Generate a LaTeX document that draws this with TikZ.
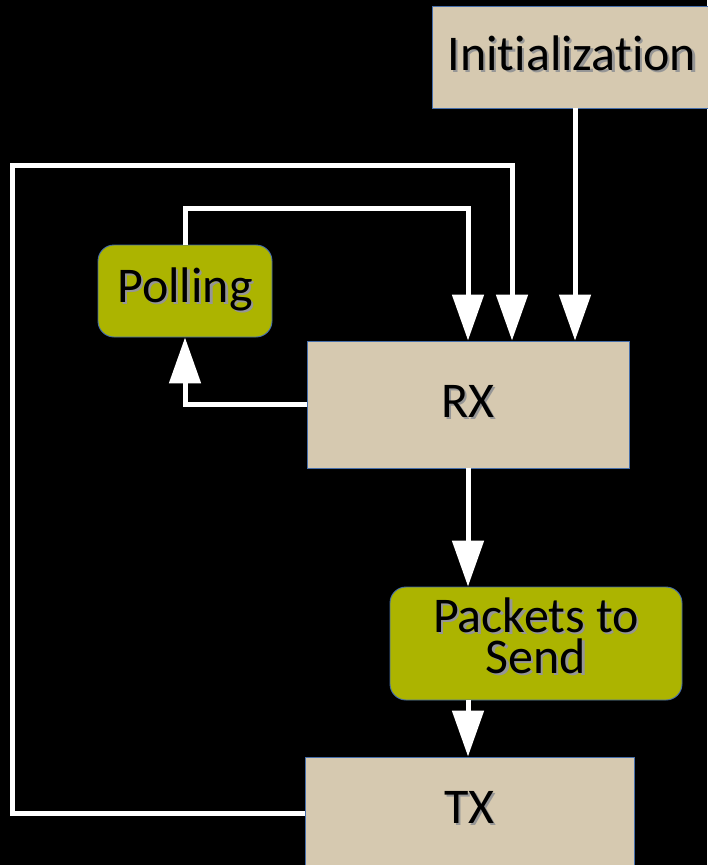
\documentclass[tikz,border=0pt]{standalone}
\usepackage{fontspec}
\setmainfont{Carlito}[Ligatures={CommonOff}]
\usetikzlibrary{arrows.meta}
\definecolor{tan}{RGB}{214,201,176}
\definecolor{olive}{RGB}{172,180,0}
\definecolor{edgeblue}{RGB}{70,110,170}
\definecolor{shadowgray}{RGB}{150,150,150}
% text with a soft grey drop shadow
\newcommand\shd[1]{\makebox[0pt][l]{\kern2.2pt\raisebox{-2.2pt}{\color{shadowgray}#1}}#1}
\tikzset{
  plainbox/.style={draw=edgeblue, line width=0.9pt, fill=tan, inner sep=0pt,
    text height=0pt, text depth=0pt, font=\fontsize{50}{41}\selectfont},
  softbox/.style={plainbox, fill=olive, rounded corners=16pt},
  flow/.style={draw=white, line width=5pt},
  arr/.style={flow, -{Triangle[width=31pt,length=46pt]}},
}
\begin{document}
\begin{tikzpicture}[x=1pt,y=-1pt]
  \fill[black] (0,0) rectangle (707,865);
  \useasboundingbox (0,0) rectangle (707,865);

  \node[plainbox, minimum width=280pt, minimum height=102pt] (init) at (572,57) {\raisebox{-13pt}{\shd{Initialization}}};
  \node[plainbox, minimum width=322pt, minimum height=127pt] (rx) at (468,404.5) {\raisebox{-12.5pt}{\shd{RX}}};
  \node[softbox, minimum width=174pt, minimum height=92pt] (poll) at (185,291) {\raisebox{-11pt}{\shd{Polling}}};
  \node[softbox, minimum width=292pt, minimum height=113pt] (pkt) at (536,643.5) {\raisebox{-29.5pt}{\parbox[b]{280pt}{\centering\shd{Packets to}\\\shd{Send}}}};
  \node[plainbox, minimum width=329pt, minimum height=113pt] (tx) at (469.5,813.5) {\raisebox{-9.5pt}{\shd{TX}}};

  \coordinate (xinit) at (575,0);
  \coordinate (xmid) at (468,0);
  \coordinate (xloop) at (512,0);
  \coordinate (ypoll) at (0,208);
  \coordinate (yloop) at (0,165);
  \coordinate (xleft) at (12,0);

  % initialization feeds RX
  \draw[arr] (init.south -| xinit) -- (rx.north -| xinit);
  % polling returns to RX
  \draw[arr] (poll.north) -- (poll.north |- ypoll) -- (xmid |- ypoll) -- (rx.north -| xmid);
  % TX loops back to RX
  \draw[arr] (tx.west) -- (tx.west -| xleft) -- (xleft |- yloop) -- (xloop |- yloop) -- (rx.north -| xloop);
  % RX to polling
  \draw[arr] (rx.west) -- (rx.west -| poll.south) -- (poll.south);
  % RX to packets, packets to TX
  \draw[arr] (rx.south -| xmid) -- (pkt.north -| xmid);
  \draw[arr] (pkt.south -| xmid) -- (tx.north -| xmid);
\end{tikzpicture}
\end{document}
